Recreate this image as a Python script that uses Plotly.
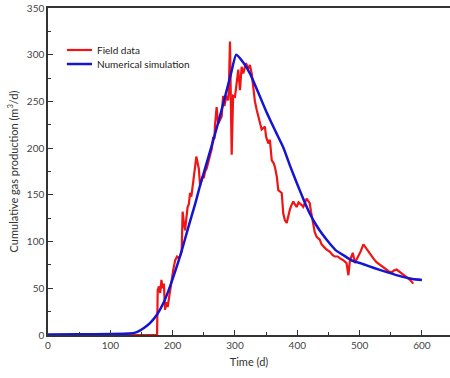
import plotly.graph_objects as go

field_x = [0, 100, 175, 176, 178, 180, 182, 184, 186, 187.7, 190, 192, 195, 198, 201, 204, 207, 210, 213, 214.5, 216, 218, 220, 222, 224, 226, 228, 230, 232, 234, 236, 238, 240, 242, 244, 246, 248, 250, 252, 254.5, 257, 260, 263, 265, 267, 268, 270.6, 273, 276, 278.6, 281, 283, 286.4, 289, 290, 292, 294.7, 297, 300, 302.7, 305.3, 308, 310.7, 313.3, 317.7, 321.4, 324, 326.8, 329.4, 332, 334.8, 337, 339, 342.8, 348, 350, 353.5, 356, 359, 362, 364, 367, 369.5, 372, 375, 377.5, 380, 383, 385, 388, 390, 393.6, 396, 399, 402, 404, 407, 409.6, 412, 415, 418, 420, 422, 425.7, 428, 431, 436, 439, 441.7, 446, 452.4, 456, 460, 465, 468.5, 473.8, 479, 482, 484.5, 487, 489, 492.5, 495, 498, 502, 506, 510, 514, 518, 522, 527, 532.7, 538, 543.4, 547, 551.4, 555, 559.4, 563, 567.5, 571, 575.5, 580.8, 586]
field_y = [0, 0, 0, 48, 52, 45, 59, 50, 55, 27, 35, 30, 45, 55, 70, 80, 84, 82, 86, 90, 132, 120, 112, 125, 137, 140, 152, 148, 160, 175, 180, 191, 185, 178, 160, 165, 170, 168, 175, 178, 185, 195, 200, 212, 210, 225, 244, 226, 230, 234, 256, 245, 256, 251, 260, 314, 193, 256, 255, 270, 284, 262, 287, 280, 291, 285, 289, 280, 262, 250, 241, 235, 230, 220, 223, 212, 205, 209, 187, 184, 180, 170, 155, 154, 152, 130, 123, 120, 127, 134, 138, 143, 140, 137, 142, 141, 139, 137, 142, 146, 143, 141, 132, 116, 110, 105, 102, 97, 95, 92, 89, 86, 84, 84, 82, 80, 77, 64, 80, 86, 88, 77, 80, 84, 90, 97, 93, 89, 85, 82, 78, 75, 72, 70, 68, 67, 69, 70, 68, 66, 64, 62, 59, 55]

sim_x = [0, 50, 100, 130, 140, 148, 155, 164, 175, 185, 193, 201, 214, 225, 236, 244, 255, 265, 275, 284, 293, 302, 313, 324, 337, 351, 365, 378, 389, 399, 410, 420, 430, 440, 452, 463, 475, 487, 505, 522, 545, 565, 585, 600]
sim_y = [0.5, 0.7, 1, 1.5, 2.5, 5, 8, 13, 22, 34, 47, 62, 89, 115, 140, 160, 185, 208, 232, 255, 278, 300, 292, 280, 260, 238, 218, 200, 180, 163, 145, 130, 118, 108, 98, 90, 85, 80, 76, 72, 67, 63, 60, 59]

x_ticks = [0, 100, 200, 300, 400, 500, 600]
y_ticks = [0, 50, 100, 150, 200, 250, 300, 350]
legend_names = ["Field data", "Numerical simulation"]

FONT = "Lato"
axis_col = "#333333"
RED = "#f01414"
BLUE = "#1414d2"

fig = go.Figure()
fig.add_trace(go.Scatter(x=field_x, y=field_y, mode="lines", name=legend_names[0],
                         line=dict(color=RED, width=2.2), showlegend=False))
fig.add_trace(go.Scatter(x=sim_x, y=sim_y, mode="lines", name=legend_names[1],
                         line=dict(color=BLUE, width=2.5, shape="spline", smoothing=0.5),
                         showlegend=False))

# manual compact legend (paper coordinates)
leg_rows = [(0.8716, RED, 2.2), (0.8287, BLUE, 2.5)]
for (ly, col, w), name in zip(leg_rows, legend_names):
    fig.add_shape(type="line", xref="paper", yref="paper", x0=0.047, x1=0.1095, y0=ly, y1=ly,
                  line=dict(color=col, width=w))
    fig.add_annotation(xref="paper", yref="paper", x=0.118, y=ly, text=name, showarrow=False,
                       xanchor="left", yanchor="middle", font=dict(size=10, color="#222222"))

fig.update_layout(
    width=450, height=378,
    margin=dict(l=48, r=0, t=8, b=43),
    plot_bgcolor="white", paper_bgcolor="white",
    font=dict(family=FONT, size=10, color="#333333"),
    showlegend=False,
    xaxis=dict(range=[0, 645], tickvals=x_ticks, ticks="inside", ticklen=5, tickwidth=1,
               tickcolor=axis_col, showline=True, linecolor=axis_col, linewidth=1.5,
               mirror=True, showgrid=False, zeroline=False,
               minor=dict(dtick=50, ticks="inside", ticklen=3, tickcolor=axis_col, showgrid=False),
               title=dict(text="Time (d)", font=dict(size=11), standoff=9),
               tickfont=dict(size=10, color="#444444")),
    yaxis=dict(range=[0, 350], tickvals=y_ticks, ticks="inside", ticklen=5, tickwidth=1,
               tickcolor=axis_col, showline=True, linecolor=axis_col, linewidth=1.5,
               mirror=False, showgrid=False, zeroline=False,
               minor=dict(dtick=25, ticks="inside", ticklen=3, tickcolor=axis_col, showgrid=False),
               title=dict(text="Cumulative gas production (m<sup>3</sup>/d)", font=dict(size=11), standoff=6),
               tickfont=dict(size=10, color="#444444")),
)

fig.write_html("out.html")
